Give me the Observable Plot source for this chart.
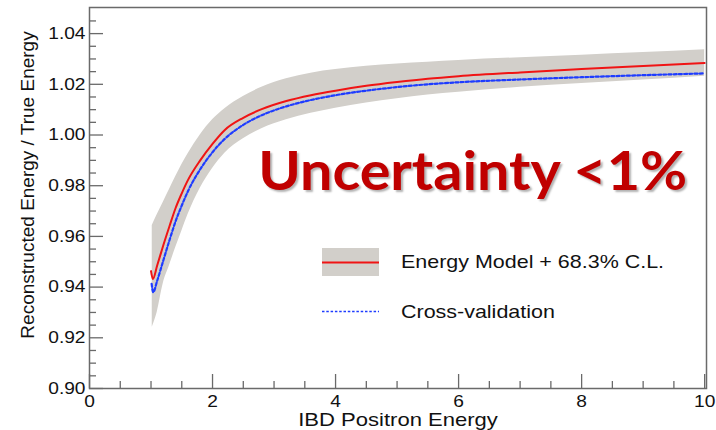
<!DOCTYPE html>
<html>
<head>
<meta charset="utf-8">
<script src="https://cdn.jsdelivr.net/npm/d3@7"></script>
<script src="https://cdn.jsdelivr.net/npm/@observablehq/plot@0.6"></script>
<style>
  html, body { margin: 0; padding: 0; background: #fff; }
  svg { display: block; }
</style>
</head>
<body>
<div id="chart"></div>
<script>
// ---- data ----
const redX  = [1.00, 1.03, 1.1, 1.2, 1.3, 1.4, 1.5, 1.6, 1.8, 2.0, 2.2, 2.5, 2.8, 3.2, 3.6, 4.0, 4.5, 5.0, 5.5, 6.0, 7.0, 8.0, 9.0, 10.0];
const redY  = [0.9463, 0.9432, 0.9485, 0.9565, 0.9640, 0.9712, 0.9770, 0.9822, 0.9900, 0.9965, 1.0020, 1.0068, 1.0102, 1.0134, 1.0157, 1.0175, 1.0194, 1.0209, 1.0222, 1.0232, 1.0247, 1.0260, 1.0272, 1.0284];
const blueX = [1.01, 1.035, 1.1, 1.2, 1.3, 1.4, 1.5, 1.6, 1.8, 2.0, 2.2, 2.5, 2.8, 3.2, 3.6, 4.0, 4.5, 5.0, 5.5, 6.0, 7.0, 8.0, 9.0, 10.0];
const blueY = [0.9413, 0.9380, 0.9425, 0.9505, 0.9585, 0.9660, 0.9722, 0.9778, 0.9865, 0.9932, 0.9985, 1.0040, 1.0078, 1.0113, 1.0138, 1.0157, 1.0175, 1.0189, 1.0200, 1.0208, 1.0219, 1.0228, 1.0236, 1.0243];
const bandX  = [1.02, 1.1, 1.2, 1.3, 1.4, 1.5, 1.6, 1.8, 2.0, 2.2, 2.5, 2.8, 3.2, 3.6, 4.0, 4.5, 5.0, 5.5, 6.0, 7.0, 8.0, 9.0, 10.0];
const bandLo = [0.9242, 0.9300, 0.9415, 0.9485, 0.9555, 0.9620, 0.9685, 0.9790, 0.9868, 0.9928, 0.9985, 1.0025, 1.0060, 1.0086, 1.0106, 1.0126, 1.0143, 1.0158, 1.0169, 1.0188, 1.0203, 1.0217, 1.0232];
const bandHi = [0.9643, 0.9685, 0.9735, 0.9785, 0.9835, 0.9883, 0.9925, 1.0000, 1.0060, 1.0104, 1.0152, 1.0188, 1.0222, 1.0244, 1.0258, 1.0271, 1.0280, 1.0287, 1.0294, 1.0305, 1.0315, 1.0325, 1.0336];

const xMajor = [0, 2, 4, 6, 8, 10];
const xMinor = [0.5, 1, 1.5, 2.5, 3, 3.5, 4.5, 5, 5.5, 6.5, 7, 7.5, 8.5, 9, 9.5];
const yMajor = [0.90, 0.92, 0.94, 0.96, 0.98, 1.00, 1.02, 1.04];
const yMinor = [0.905, 0.91, 0.915, 0.925, 0.93, 0.935, 0.945, 0.95, 0.955, 0.965, 0.97, 0.975, 0.985, 0.99, 0.995, 1.005, 1.01, 1.015, 1.025, 1.03, 1.035, 1.045];

const xTitle = "IBD Positron Energy";
const yTitle = "Reconstructed Energy / True Energy";
const headline = "Uncertainty <1%";
const legendLabels = ["Energy Model + 68.3% C.L.", "Cross-validation"];

// ---- tables ----
const redRows  = redX.map((x, i) => ({x, y: redY[i]}));
const blueRows = blueX.map((x, i) => ({x, y: blueY[i]}));
const bandRows = bandX.map((x, i) => ({x, lo: bandLo[i], hi: bandHi[i]}));

const BAND = "#d2cfca", RED = "#f01414", BLUE = "#1e3cff", AX = "#6a6a6a";
const FONT = "'Liberation Sans', Arial, Helvetica, sans-serif";
const STRETCH = 1.16; // the reference glyphs are horizontally widened

const plot = Plot.plot({
  width: 716,
  height: 430,
  marginLeft: 89,
  marginRight: 10,
  marginTop: 7,
  marginBottom: 42,
  style: {fontFamily: FONT, fontSize: "16px", color: "#111", background: "#fff"},
  x: {domain: [0, 10.03]},
  y: {domain: [0.9, 1.0503]},
  marks: [
    Plot.areaY(bandRows, {x: "x", y1: "lo", y2: "hi", fill: BAND, curve: "monotone-x"}),
    Plot.line(blueRows, {x: "x", y: "y", stroke: BLUE, strokeWidth: 2.2, strokeDasharray: "3,2.2", curve: "monotone-x"}),
    Plot.line(redRows, {x: "x", y: "y", stroke: RED, strokeWidth: 2, curve: "monotone-x"}),
    Plot.frame({stroke: AX, strokeWidth: 1.5}),
    Plot.axisX({ticks: xMajor, tickSize: -14, fill: "none", stroke: AX, strokeWidth: 1.3, label: null}),
    Plot.axisX({ticks: xMinor, tickSize: -7, fill: "none", stroke: AX, strokeWidth: 1.3, label: null}),
    Plot.axisX({ticks: xMajor, tickSize: 0, tickPadding: 7, fill: "#111", label: null, fontSize: 16.5, tickFormat: d => String(d)}),
    Plot.axisY({ticks: yMajor, tickSize: -14, fill: "none", stroke: AX, strokeWidth: 1.3, label: null}),
    Plot.axisY({ticks: yMinor, tickSize: -7, fill: "none", stroke: AX, strokeWidth: 1.3, label: null}),
    Plot.axisY({ticks: yMajor, tickSize: 0, tickPadding: 4, fill: "#111", label: null, fontSize: 16.5, tickFormat: d => d.toFixed(2)}),
    Plot.text([xTitle], {text: d => d, frameAnchor: "bottom", lineAnchor: "bottom", dy: 37, fontSize: 19, fill: "#111"}),
    Plot.text([yTitle], {text: d => d, frameAnchor: "left", textAnchor: "middle", lineAnchor: "middle", dx: -62, dy: -13, rotate: -90, fontSize: 19, fill: "#111"}),
    Plot.text([headline], {text: d => d, x: 6.23, y: 0.985, fontSize: 54, fontWeight: "bold", fill: "#c00000",
      fontFamily: "Lato, 'Open Sans', sans-serif"})
  ]
});

document.getElementById("chart").appendChild(plot);
const svg = d3.select(plot);

// legend (inside the frame)
const lg = svg.append("g").attr("font-family", FONT).attr("font-size", 18.5).attr("fill", "#111").attr("text-anchor", "start");
lg.append("rect").attr("x", 322).attr("y", 248).attr("width", 57).attr("height", 28).attr("fill", BAND);
lg.append("line").attr("x1", 322).attr("x2", 379).attr("y1", 262.5).attr("y2", 262.5).attr("stroke", RED).attr("stroke-width", 2);
lg.append("text").attr("x", 401).attr("y", 267.5).attr("text-anchor", "start").text(legendLabels[0]);
lg.append("line").attr("x1", 322).attr("x2", 379).attr("y1", 311.5).attr("y2", 311.5).attr("stroke", BLUE).attr("stroke-width", 1.6).attr("stroke-dasharray", "2.5,1.8");
lg.append("text").attr("x", 401).attr("y", 318).attr("text-anchor", "start").text(legendLabels[1]);

// widen horizontal texts like the reference; fit headline to its width
svg.selectAll("text").each(function() {
  const t = this.textContent;
  if (t === headline) {
    d3.select(this).attr("textLength", 429).attr("lengthAdjust", "spacingAndGlyphs")
      .style("text-shadow", "2px 2px 2px rgba(0,0,0,0.3)");
  } else if (t !== yTitle && t.length) {
    const len = this.getComputedTextLength();
    d3.select(this).attr("textLength", len * STRETCH).attr("lengthAdjust", "spacingAndGlyphs");
  }
});
</script>
</body>
</html>
